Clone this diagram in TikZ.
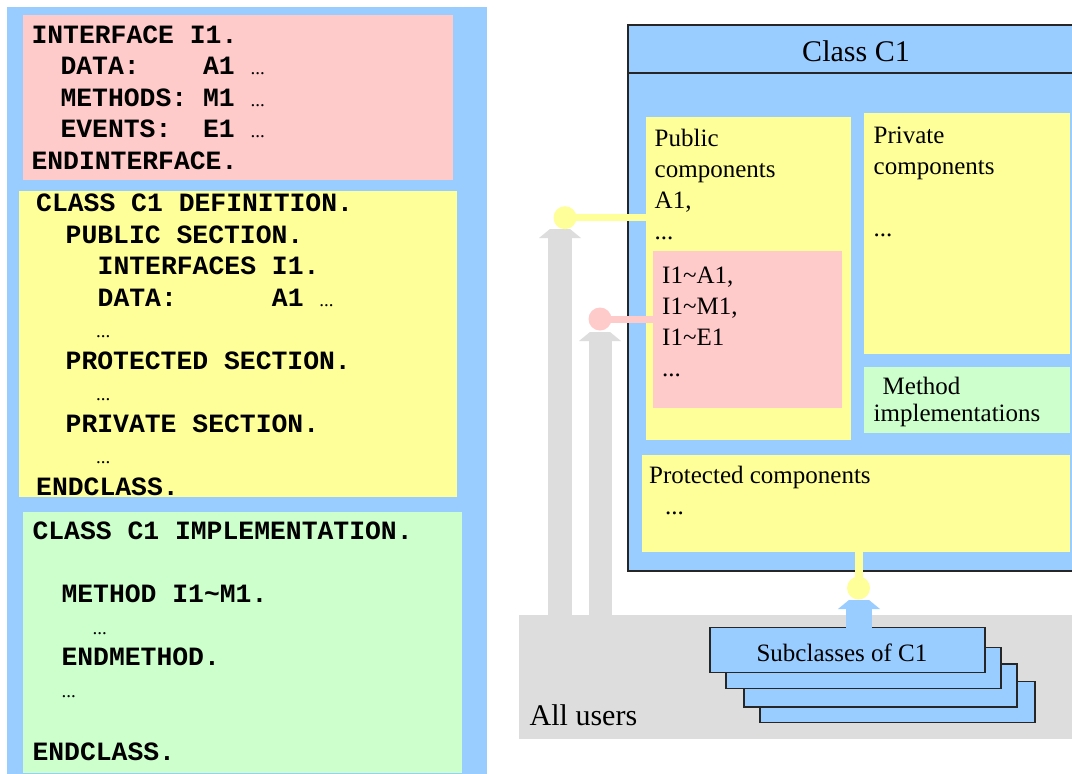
\documentclass[tikz,border=0pt]{standalone}
\usepackage{fontspec}
\setmainfont{Liberation Serif}
\setmonofont{Liberation Mono}
\definecolor{clsblue}{HTML}{99CCFF}
\definecolor{pubyellow}{HTML}{FFFF99}
\definecolor{ifpink}{HTML}{FFCACA}
\definecolor{implgreen}{HTML}{CCFFCC}
\definecolor{usergray}{HTML}{DDDDDD}
\newcommand\codefont{\ttfamily\bfseries\fontsize{26.4}{31.5}\selectfont}
\newcommand\labfont{\fontsize{25}{31}\selectfont}
\newcommand\more{{\rmfamily\mdseries\fontsize{19}{19}\selectfont...}}
\newcommand\tld{\textasciitilde}
\begin{document}
\begin{tikzpicture}[x=1pt,y=-1pt,
region/.style={rectangle,inner sep=0pt,outer sep=0pt,anchor=north west},
codetext/.style={anchor=base west,inner sep=0pt,align=left,font=\codefont},
lbl/.style={anchor=base west,inner sep=0pt,align=left,font=\labfont},
stack/.style={region,fill=clsblue,draw=black!85,line width=1.5pt,minimum width=275pt,minimum height=43pt},
knob/.style={circle,inner sep=0pt,minimum size=23pt},
hat/.pic={\path[pic actions] (-21,9) -- (-10,0) -- (10,0) -- (21,9) -- cycle;}]
\useasboundingbox (0,0) rectangle (1072,774);
\clip (0,0) rectangle (1072,774);
\fill[white] (0,0) rectangle (1072,774);
% source code column
\node[region,fill=clsblue,minimum width=480pt,minimum height=780pt] (leftbg) at (7,7) {};
\node[region,fill=ifpink,minimum width=430pt,minimum height=165pt] (ifdef) at (23,15) {};
\node[region,fill=pubyellow,minimum width=438pt,minimum height=306pt] (clsdef) at (19,191) {};
\node[region,fill=implgreen,minimum width=439pt,minimum height=261pt] (clsimpl) at (23,512) {};
\node[codetext] (ifcode) at (31.3,169) {INTERFACE I1.\\
\hspace*{29pt}DATA:~~~~A1~\more\\
\hspace*{29pt}METHODS:~M1~\more\\
\hspace*{29pt}EVENTS:~~E1~\more\\
ENDINTERFACE.};
\node[codetext] (defcode) at (36,495) {CLASS C1 DEFINITION.\\
\hspace*{29.5pt}PUBLIC SECTION.\\
\hspace*{61.5pt}INTERFACES I1.\\
\hspace*{61.5pt}DATA:~~~~~~A1~\more\\
\hspace*{60pt}\more\\
\hspace*{29.5pt}PROTECTED SECTION.\\
\hspace*{60pt}\more\\
\hspace*{29.5pt}PRIVATE SECTION.\\
\hspace*{60pt}\more\\
ENDCLASS.};
\node[codetext] (implcode) at (32.3,760) {CLASS C1 IMPLEMENTATION.\\
\mbox{}\\
\hspace*{29pt}METHOD I1\tld M1.\\
\hspace*{60pt}\more\\
\hspace*{29pt}ENDMETHOD.\\
\hspace*{29pt}\more\\
\mbox{}\\
ENDCLASS.};
% users and class
\node[region,fill=usergray,minimum width=600pt,minimum height=124pt] (allusers) at (519,615) {};
\coordinate (u1) at (560,229);
\coordinate (u2) at (600,332);
\coordinate (s1) at (859,600);
\pic[fill=usergray] at (u1) {hat};
\pic[fill=usergray] at (u2) {hat};
\draw[usergray,line width=24pt] (u1) ++(0,8) -- (u1 |- allusers.center);
\draw[usergray,line width=23pt] (u2) ++(0,8) -- (u2 |- allusers.center);
\node[region,fill=clsblue,draw=black!85,line width=2pt,minimum width=520pt,minimum height=545.7pt] (c1) at (627.5,25) {};
\coordinate (sep) at (0,72.7);
\draw[black!85,line width=2pt] (c1.west |- sep) -- (c1.east |- sep);
\node[region,fill=pubyellow,minimum width=205.5pt,minimum height=323.3pt] (pub) at (645.5,116.7) {};
\node[region,fill=pubyellow,minimum width=206pt,minimum height=241pt] (priv) at (864,113) {};
\node[region,fill=ifpink,minimum width=188.5pt,minimum height=157pt] (ifpub) at (653,251) {};
\node[region,fill=implgreen,minimum width=206pt,minimum height=66pt] (meth) at (864,366.7) {};
\node[region,fill=pubyellow,minimum width=428.5pt,minimum height=96.7pt] (prot) at (641.5,455) {};
\node[knob,fill=pubyellow] (pubdot) at (565,217.7) {};
\node[knob,fill=ifpink] (ifdot) at (600,319) {};
\node[knob,fill=pubyellow] (protdot) at (858.5,588) {};
\begin{scope}[line width=7pt]
 \draw[pubyellow] (pubdot.center) -- (pubdot.center -| pub.west);
 \draw[ifpink] (ifdot.center) -- (ifdot.center -| ifpub.west);
 \draw[pubyellow,line width=8pt] (protdot.center) -- (protdot.center |- prot.south);
\end{scope}
\node[stack,minimum height=41pt] (sub4) at (760,681.7) {};
\node[stack,minimum width=273pt] (sub3) at (744,664) {};
\node[stack,minimum height=41pt] (sub2) at (726,647.7) {};
\node[stack,minimum height=45pt] (sub1) at (710,627.7) {};
\pic[fill=clsblue] at (s1) {hat};
\draw[clsblue,line width=26pt] (s1) ++(0,8) -- (s1 |- sub1.north) -- ++(0,2);
% labels
\node[font=\fontsize{30}{36}\selectfont,inner sep=0pt] (c1title) at (856,51) {Class C1};
\node[lbl] (pubtext) at (654.5,239.3) {Public\\components\\A1,\\...};
\node[lbl] (privtext) at (873.5,236.3) {Private\\components\\\mbox{}\\...};
\node[lbl] (iftext) at (662,376.3) {I1\tld A1,\\I1\tld M1,\\I1\tld E1\\...};
\node[lbl] (methtext) at (873.5,421.7) {\hspace*{9pt}Method\\[-3.3pt]implementations};
\node[lbl] (prottext) at (649,514.3) {Protected components\\\hspace*{16pt}...};
\node[font=\labfont,inner sep=0pt] (subtext) at (842,652.5) {Subclasses of C1};
\node[lbl,font=\fontsize{30}{36}\selectfont] (alltext) at (529.5,725) {All users};
\end{tikzpicture}
\end{document}
